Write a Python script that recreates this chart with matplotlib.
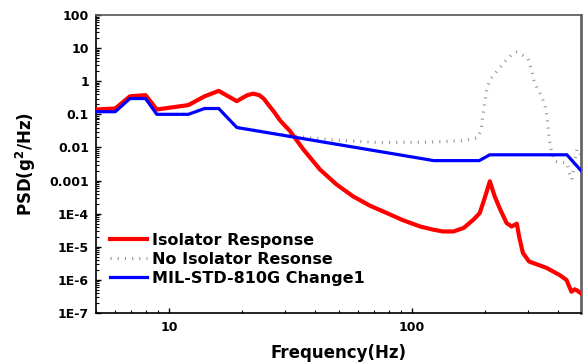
import matplotlib
matplotlib.use("Agg")
import matplotlib.pyplot as plt
from matplotlib.ticker import FixedLocator, FixedFormatter, LogLocator, NullFormatter

# Isolator response (red)
iso_freq = [5, 6, 6.9, 8, 8.9, 12, 14, 16, 19, 21, 22.2, 23.5, 24.5, 25.3, 27, 28.6, 30,
            31.5, 32.4, 35.7, 41.8, 48.9, 57.3, 67, 78.6, 92, 108, 122, 134, 148, 163, 179,
            190, 200, 209, 219, 230, 245, 257, 270, 276, 286, 303, 358, 405, 432, 453, 467,
            478, 496]
iso_psd = [0.14, 0.15, 0.35, 0.38, 0.14, 0.19, 0.35, 0.51, 0.25, 0.38, 0.42, 0.38, 0.3,
           0.22, 0.12, 0.066, 0.045, 0.031, 0.023, 0.0087, 0.00215, 7.6e-4, 3.3e-4,
           1.75e-4, 1.05e-4, 6.3e-5, 4.1e-5, 3.3e-5, 2.9e-5, 2.9e-5, 3.7e-5, 6.6e-5,
           1.05e-4, 3.3e-4, 9.5e-4, 3.3e-4, 1.4e-4, 5.2e-5, 4.1e-5, 5e-5, 2e-5, 6.5e-6,
           3.6e-6, 2.3e-6, 1.4e-6, 1e-6, 4.4e-7, 5.2e-7, 4.8e-7, 3.9e-7]

# No isolator response (grey dotted)
noiso_freq = [5, 6, 6.9, 8, 8.9, 12, 14, 16, 19, 30, 34.6, 46, 74, 118, 160, 178, 187, 193,
              195, 199, 203, 209, 222, 240, 260, 270, 278, 300, 310, 320, 337, 352, 360,
              366, 372, 386, 434, 444, 455, 468, 478, 496]
noiso_psd = [0.12, 0.12, 0.3, 0.3, 0.1, 0.1, 0.15, 0.15, 0.04, 0.024, 0.021, 0.017, 0.014,
             0.0145, 0.016, 0.018, 0.02, 0.038, 0.08, 0.22, 0.53, 1.1, 1.9, 3.8, 6.9, 7.5,
             6.9, 4.9, 2.2, 0.85, 0.42, 0.2, 0.08, 0.022, 0.0098, 0.0038, 0.0034, 0.0017,
             0.00107, 0.004, 0.009, 0.006]

# MIL-STD-810G Change1 input spec (blue)
mil_freq = [5, 6, 6.9, 8, 8.9, 12, 14, 16, 19, 123, 189, 209, 434, 496]
mil_psd = [0.12, 0.12, 0.3, 0.3, 0.1, 0.1, 0.15, 0.15, 0.04, 0.004, 0.004, 0.006, 0.006, 0.002]

y_ticks = [1e-7, 1e-6, 1e-5, 1e-4, 1e-3, 1e-2, 1e-1, 1, 10, 100]
y_labels = ["1E-7", "1E-6", "1E-5", "1E-4", "0.001", "0.01", "0.1", "1", "10", "100"]
x_ticks = [10, 100]
x_labels = ["10", "100"]

plt.rcParams["font.family"] = "DejaVu Sans"
plt.rcParams["font.weight"] = "bold"

fig = plt.figure(figsize=(5.87, 3.63), dpi=100)
ax = fig.add_axes([0.1635, 0.1377, 0.8263, 0.821])

ax.plot(noiso_freq, noiso_psd, color="#999999", lw=2.3, linestyle=(0, (0.35, 1.9)),
        dash_capstyle="butt", label="No Isolator Resonse", zorder=2)
ax.plot(iso_freq, iso_psd, color="#ff0000", lw=3, label="Isolator Response", zorder=3)
ax.plot(mil_freq, mil_psd, color="#0000ff", lw=2.3, label="MIL-STD-810G Change1", zorder=4)

ax.set_xscale("log")
ax.set_yscale("log")
ax.set_xlim(5, 496)
ax.set_ylim(1e-7, 100)

ax.yaxis.set_major_locator(FixedLocator(y_ticks))
ax.yaxis.set_major_formatter(FixedFormatter(y_labels))
ax.yaxis.set_minor_locator(LogLocator(base=10, subs=range(2, 10), numticks=20))
ax.yaxis.set_minor_formatter(NullFormatter())
ax.xaxis.set_major_locator(FixedLocator(x_ticks))
ax.xaxis.set_major_formatter(FixedFormatter(x_labels))
ax.xaxis.set_minor_locator(LogLocator(base=10, subs=range(2, 10), numticks=20))
ax.xaxis.set_minor_formatter(NullFormatter())

ax.tick_params(which="both", direction="in", top=False, right=False)
ax.tick_params(which="major", length=3.5, width=1, labelsize=9)
ax.tick_params(axis="x", which="major", pad=6)
ax.tick_params(axis="y", which="major", pad=5)
ax.tick_params(which="minor", length=2, width=0.8)

for s in ["left", "bottom"]:
    ax.spines[s].set_color("black")
    ax.spines[s].set_linewidth(1.2)
ax.spines["top"].set_color("#555555")
ax.spines["top"].set_linewidth(1.2)
ax.spines["right"].set_color("#666666")
ax.spines["right"].set_linewidth(2)

ax.set_xlabel("Frequency(Hz)", fontsize=12, fontweight="bold", labelpad=7)
ax.set_ylabel("PSD(g$^\\mathbf{2}$/Hz)", fontsize=12, fontweight="bold", labelpad=8)

handles, labels = ax.get_legend_handles_labels()
order = [1, 0, 2]
ax.legend([handles[i] for i in order], [labels[i] for i in order],
          loc="upper left", bbox_to_anchor=(0.029, 0.27), frameon=False,
          borderpad=0, borderaxespad=0, handlelength=2.3, handletextpad=0.3,
          labelspacing=0.25, prop={"size": 11.5, "weight": "bold"})

fig.savefig("out.png", dpi=100)
